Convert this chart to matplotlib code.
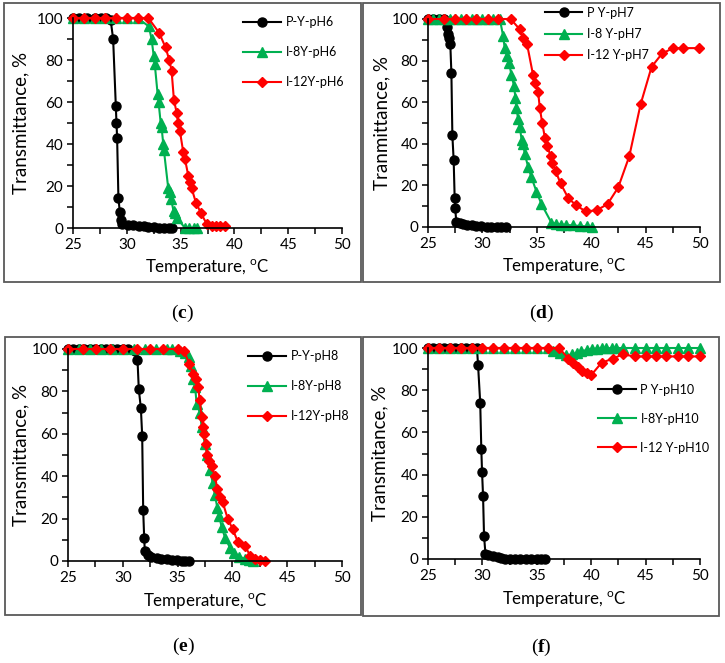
import matplotlib
matplotlib.use("Agg")
import matplotlib.pyplot as plt
from matplotlib.patches import Rectangle
from matplotlib.ticker import MultipleLocator

plt.rcParams["font.family"] = ["Lato", "DejaVu Sans"]
plt.rcParams["mathtext.default"] = "regular"
plt.rcParams["mathtext.fontset"] = "custom"
plt.rcParams["mathtext.bf"] = "Liberation Serif:bold"

# ---- panel (c): pH 6 ----
c_p_t = [25, 25.6, 26.3, 27, 27.6, 28.1, 28.5, 28.73, 28.98, 29.04, 29.1, 29.22, 29.35,
         29.44, 29.6, 30.12, 30.6, 31.1, 31.6, 32.0, 32.5, 33.0, 33.5, 33.9, 34.2]
c_p_y = [100, 100, 100, 100, 100, 100, 99, 90, 58, 50, 43, 14.5, 7.5,
         4, 2, 1.5, 1.2, 1, 0.8, 0.5, 0.3, 0.2, 0.2, 0.2, 0]
c_8_t = [25, 26, 27, 28, 29, 30, 31, 32.05, 32.3, 32.5, 32.6, 32.86, 32.95, 33.15, 33.23,
         33.39, 33.45, 33.85, 34.0, 34.1, 34.35, 34.5, 34.65, 35.4, 35.8, 36.2, 36.55]
c_8_y = [100, 100, 100, 100, 100, 100, 100, 96, 90, 82, 78, 64, 60, 50, 48,
         40, 37, 19, 17, 14, 8, 7, 5, 0, 0, 0, 0]
c_12_t = [25, 26, 27, 28, 29.04, 30.06, 31.06, 32.0, 33.0, 33.6, 33.95, 34.16, 34.38, 34.63,
          34.78, 34.94, 35.25, 35.4, 35.71, 35.87, 36.02, 36.43, 36.9, 37.42, 37.9, 38.3, 38.66, 39.13]
c_12_y = [100, 100, 100, 100, 100, 100, 100, 100, 93, 86, 80, 75, 61, 55,
          50, 46, 36, 33, 25, 22, 19, 12, 7, 2, 1, 1, 1, 1]

# ---- panel (d): pH 7 ----
d_p_t = [25, 25.5, 26, 26.5, 26.75, 26.84, 26.93, 27.05, 27.15, 27.24, 27.36, 27.45, 27.5,
         27.6, 27.9, 28.2, 28.6, 29.0, 29.45, 29.9, 30.4, 30.8, 31.3, 31.75, 32.2]
d_p_y = [100, 100, 100, 100, 96, 93, 91, 88, 74, 44, 32, 14, 9,
         2.5, 2, 1.5, 1, 0.8, 0.5, 0.3, 0.2, 0.2, 0.2, 0.2, 0]
d_8_t = [25, 25.5, 26, 26.5, 27, 27.5, 28, 28.5, 29, 29.5, 30, 30.5, 31, 31.6,
         31.9, 32.05, 32.27, 32.45, 32.67, 32.9, 33.04, 33.13, 33.28, 33.44, 33.6, 33.74, 33.9,
         34.2, 34.5, 34.97, 35.43, 36.35, 36.8, 37.2, 37.7, 38.3, 38.96, 39.57, 40.03]
d_8_y = [100, 100, 100, 100, 100, 100, 100, 100, 100, 100, 100, 100, 100, 100,
         92, 86, 82, 79, 73, 68, 62, 57, 52, 48, 42, 40, 35,
         29, 24, 17, 11, 2, 1.5, 1.2, 1, 0.8, 0.5, 0.3, 0]
d_12_t = [25, 26.5, 27.45, 28.5, 29.45, 30.5, 31.45, 32.6, 33.44, 33.74, 34.1, 34.66, 34.88,
          35.12, 35.28, 35.5, 35.74, 35.98, 36.26, 36.44, 36.72, 37.18, 37.88, 38.59, 39.5,
          40.49, 41.5, 42.48, 43.5, 44.54, 45.55, 46.53, 47.55, 48.47, 49.94]
d_12_y = [100, 100, 100, 100, 100, 100, 100, 100, 95, 91, 88, 73, 69,
          65, 57, 50, 43, 39, 34, 31, 27, 21, 14, 10.5, 7.5,
          8, 11, 19, 34, 59, 77, 83.5, 86, 86, 86]

# ---- panel (e): pH 8 ----
e_p_t = [25, 25.5, 26, 26.5, 27, 27.5, 28, 28.5, 29, 29.5, 30, 30.5, 31.1, 31.34, 31.46,
         31.65, 31.77, 31.86, 31.95, 32.01, 32.3, 32.6, 33.1, 33.5, 34.0, 34.45, 34.9, 35.4, 35.7, 36.07]
e_p_y = [100, 100, 100, 100, 100, 100, 100, 100, 100, 100, 100, 100, 99, 95, 81,
         72, 59, 24, 11, 4.5, 3, 2, 1.5, 1, 0.8, 0.5, 0.3, 0.2, 0.2, 0.2]
e_8_t = [25, 26, 27, 28, 29, 30, 31, 32, 33, 34, 34.5, 35.2, 35.67, 36.0, 36.2, 36.43, 36.6,
         36.74, 37.04, 37.2, 37.5, 37.7, 37.96, 38.2, 38.41, 38.63, 38.8, 39.02, 39.33, 39.8,
         40.15, 40.64, 41.16, 41.55, 41.9]
e_8_y = [100, 100, 100, 100, 100, 100, 100, 100, 100, 100, 100, 99, 98, 96, 92, 86, 82,
         74, 70, 63, 55, 50, 43, 37, 31, 25, 21, 16, 11, 6,
         4, 2, 1, 0.5, 0]
e_12_t = [25, 26.37, 27.6, 28.8, 30.03, 31.25, 32.47, 33.7, 35.06, 35.6, 36.07, 36.43, 36.68,
          36.9, 37.0, 37.2, 37.35, 37.4, 37.56, 37.7, 37.87, 38.1, 38.4, 38.63, 38.87, 39.1,
          39.57, 40.03, 40.5, 41.16, 41.62, 42.07, 42.53, 43.0]
e_12_y = [100, 100, 100, 100, 100, 100, 100, 100, 100, 99, 93, 88, 86,
          82, 76, 68, 63, 60, 55, 50, 47, 45, 40, 34, 30, 28,
          20, 15, 9, 7, 2.5, 1, 0.5, 0]

# ---- panel (f): pH 10 ----
f_p_t = [25, 25.5, 26, 26.5, 27, 27.5, 28, 28.5, 29, 29.5, 29.6, 29.8, 29.9, 29.97, 30.06,
         30.15, 30.28, 30.5, 30.98, 31.44, 31.75, 32.06, 32.5, 33.0, 33.5, 34.0, 34.5, 35.0, 35.4, 35.74]
f_p_y = [100, 100, 100, 100, 100, 100, 100, 100, 100, 100, 92, 74, 52, 41, 30,
         11, 2.5, 2, 1.5, 1, 0.5, 0, 0, 0, 0, 0, 0, 0, 0, 0]
f_8_t = [25, 26, 27, 28, 29, 30, 31, 32, 33, 34.05, 35, 36.04, 36.5, 37.1, 37.7, 38.2, 38.65,
         39.1, 39.57, 40.03, 40.5, 40.95, 41.4, 41.87, 42.3, 42.9, 44, 45, 46, 46.9, 48, 48.9, 50]
f_8_y = [100, 100, 100, 100, 100, 100, 100, 100, 100, 100, 100, 100, 98.5, 97.5, 96.5, 97, 97.5,
         98.5, 99, 99.5, 99.7, 99.8, 99.8, 100, 100, 100, 100, 100, 100, 100, 100, 100, 100]
f_12_t = [25, 26, 27, 28, 29, 30, 31, 32, 33, 34, 35, 36, 37.05, 37.9, 38.35, 38.8, 39.2,
          39.57, 39.97, 40.95, 42.0, 42.9, 44.0, 45, 46, 46.9, 48, 48.9, 50]
f_12_y = [100, 100, 100, 100, 100, 100, 100, 100, 100, 100, 100, 100, 100, 95, 93, 91, 89,
          88, 87, 93, 95, 97, 96, 96, 96, 96, 96, 96, 96]

W, H = 725, 663
fig = plt.figure(figsize=(W / 100, H / 100), dpi=100)

BLACK, GREEN, RED = "#000000", "#00B050", "#FF0000"


def px_axes(x0, y0, x1, y1):
    # pixel box (top-left origin) -> figure axes
    return fig.add_axes([x0 / W, 1 - y1 / H, (x1 - x0) / W, (y1 - y0) / H])


def panel_box(x0, y0, x1, y1):
    fig.patches.append(Rectangle((x0 / W, 1 - y1 / H), (x1 - x0) / W, (y1 - y0) / H,
                                 transform=fig.transFigure, fill=False,
                                 edgecolor="#595959", linewidth=1.3))


panels = [
    dict(box=(4, 3, 361, 282), ax=(73, 18, 342, 228),
         series=[(c_p_t, c_p_y, "P-Y-pH6"), (c_8_t, c_8_y, "I-8Y-pH6"), (c_12_t, c_12_y, "I-12Y-pH6")],
         ylabel="Transmittance, %", ylab_x=-0.164, leg=(0.632, 1.01), spacing=1.45, tag="c"),
    dict(box=(363, 3, 720, 282), ax=(428, 19, 700, 227),
         series=[(d_p_t, d_p_y, "P Y-pH7"), (d_8_t, d_8_y, "I-8 Y-pH7"), (d_12_t, d_12_y, "I-12 Y-pH7")],
         ylabel="Tranmittance, %", ylab_x=-0.14, leg=(0.43, 1.06), spacing=0.75, tag="d"),
    dict(box=(5, 337, 361, 615), ax=(68, 349, 342, 561),
         series=[(e_p_t, e_p_y, "P-Y-pH8"), (e_8_t, e_8_y, "I-8Y-pH8"), (e_12_t, e_12_y, "I-12Y-pH8")],
         ylabel="Transmittance, %", ylab_x=-0.142, leg=(0.657, 0.995), spacing=1.45, tag="e"),
    dict(box=(363, 337, 719, 616), ax=(428, 348, 700, 559),
         series=[(f_p_t, f_p_y, "P Y-pH10"), (f_8_t, f_8_y, "I-8Y-pH10"), (f_12_t, f_12_y, "I-12 Y-pH10")],
         ylabel="Transmitance, %", ylab_x=-0.147, leg=(0.625, 0.83), spacing=1.35, tag="f"),
]

styles = [(BLACK, "o", 6.5), (GREEN, "^", 6.5), (RED, "D", 5)]

for p in panels:
    panel_box(*p["box"])
    ax = px_axes(*p["ax"])
    for (t, y, lab), (col, mk, ms) in zip(p["series"], styles):
        ax.plot(t, y, color=col, marker=mk, markersize=ms, linewidth=1.5, label=lab,
                clip_on=False)
    ax.set_xlim(25, 50)
    ax.set_ylim(0, 100)
    ax.xaxis.set_major_locator(MultipleLocator(5))
    ax.xaxis.set_minor_locator(MultipleLocator(2.5))
    ax.yaxis.set_major_locator(MultipleLocator(20))
    ax.yaxis.set_minor_locator(MultipleLocator(10))
    for s in ["top", "right"]:
        ax.spines[s].set_visible(False)
    for s in ["left", "bottom"]:
        ax.spines[s].set_linewidth(1.2)
    ax.tick_params(which="both", direction="out", width=1.1, labelsize=11, pad=3)
    ax.tick_params(which="major", length=4)
    ax.tick_params(which="minor", length=4)
    ax.set_ylabel(p["ylabel"], fontsize=13.5)
    ax.yaxis.set_label_coords(p["ylab_x"], 0.5)
    ax.set_xlabel("Temperature, $^{o}$C", fontsize=12.2)
    ax.xaxis.set_label_coords(0.5, -0.14)
    ax.legend(loc="upper left", bbox_to_anchor=p["leg"], frameon=False, fontsize=9,
              borderpad=0, borderaxespad=0, handlelength=3.0, handletextpad=0.4,
              labelspacing=p["spacing"])

    bx0, by0, bx1, by1 = p["box"]
    cx = (bx0 + bx1) / 2
    cy = by1 + 31
    fig.text(cx / W, 1 - cy / H, "($\\mathbf{%s}$)" % p["tag"], ha="center", va="center",
             fontsize=14, family="Liberation Serif")

fig.savefig("out.png", dpi=100)
